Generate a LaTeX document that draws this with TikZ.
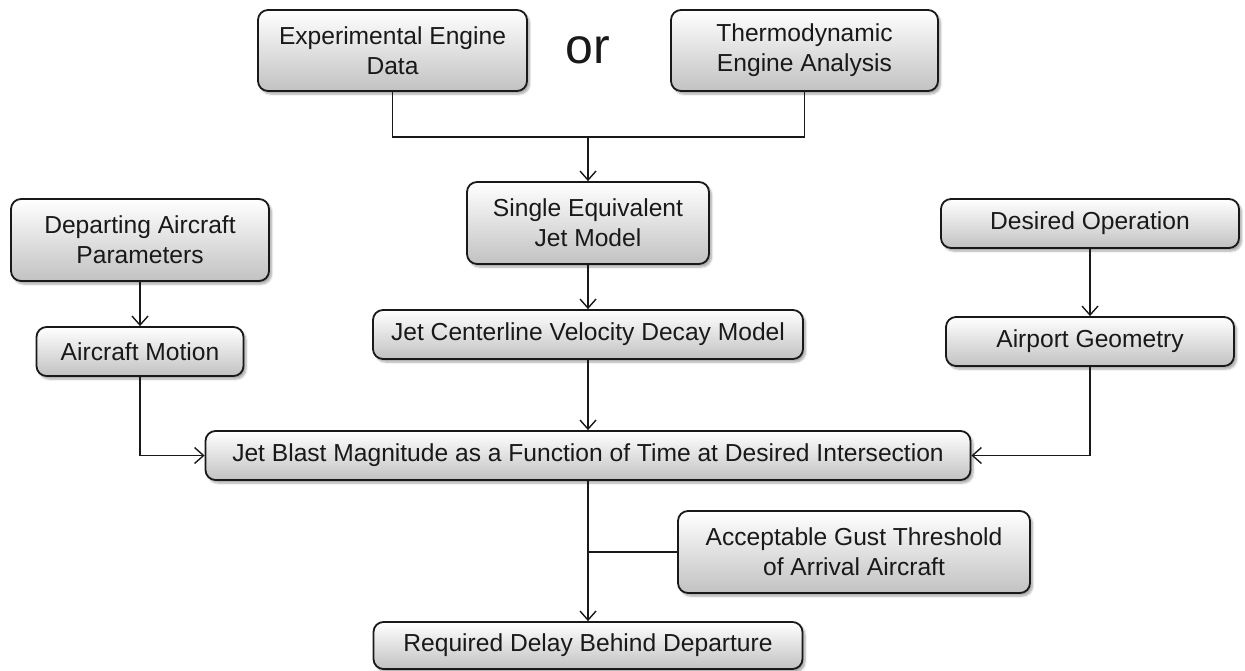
\documentclass[tikz,border=0pt]{standalone}
\usepackage{fontspec}
\setmainfont{Liberation Sans}
\usetikzlibrary{arrows.meta,shadows,shadows.blur}
\begin{document}
\begin{tikzpicture}[x=1pt,y=-1pt,
  box/.style={draw=black!90, line width=1.8pt, rounded corners=10pt,
    top color=white, bottom color=black!24,
    blur shadow={shadow xshift=2.5pt, shadow yshift=-3pt, shadow blur steps=6, shadow opacity=35},
    align=center, inner sep=0pt, text=black!90,
    font=\fontsize{24.6}{30}\selectfont},
  conn/.style={line width=1.4pt, draw=black!90},
  arr/.style={conn, -{Straight Barb[length=9pt,width=16pt,line width=1.4pt]}}]
\useasboundingbox (0,0) rectangle (1245,670);

% sources of engine data
\node[box, minimum width=269pt, minimum height=81pt] (exp) at (392.5,50.5) {Experimental Engine\\Data};
\node[box, minimum width=267pt, minimum height=81pt] (thermo) at (804.5,50.5) {Thermodynamic\\Engine Analysis};
\node[font=\fontsize{50}{54}\selectfont, text=black!90] (or) at (588,50) {or};

% central chain
\node[box, minimum width=242pt, minimum height=82pt] (single) at (588,223) {Single Equivalent\\Jet Model};
\node[box, minimum width=430pt, minimum height=49pt] (decay) at (588,334.5) {Jet Centerline Velocity Decay Model};
\node[box, minimum width=765pt, minimum height=49pt] (blast) at (588,455.5) {Jet Blast Magnitude as a Function of Time at Desired Intersection};
\node[box, minimum width=429pt, minimum height=47pt] (delay) at (588,645.5) {Required Delay Behind Departure};

% left branch
\node[box, minimum width=258pt, minimum height=82pt] (dep) at (140,240) {Departing Aircraft\\Parameters};
\node[box, minimum width=207pt, minimum height=49pt] (motion) at (140,351.5) {Aircraft Motion};

% right branch
\node[box, minimum width=298pt, minimum height=49pt] (desired) at (1090,223.5) {Desired Operation};
\node[box, minimum width=288pt, minimum height=49pt] (airport) at (1090,341.5) {Airport Geometry};

% arrival side input
\node[box, minimum width=352pt, minimum height=82pt] (gust) at (854,552) {Acceptable Gust Threshold\\of Arrival Aircraft};

% connectors
\coordinate (join) at (588,137);
\draw[conn] (exp.south) |- (join) -| (thermo.south);
\draw[arr] (join) -- (single.north);
\draw[arr] (single.south) -- (decay.north);
\draw[arr] (decay.south) -- (blast.north);
\draw[arr] (dep.south) -- (motion.north);
\draw[arr] (motion.south) |- (blast.west);
\draw[arr] (desired.south) -- (airport.north);
\draw[arr] (airport.south) |- (blast.east);
\draw[arr] (blast.south) -- (delay.north);
\draw[conn] (gust.west) -- (gust.west -| blast.south);
\end{tikzpicture}
\end{document}
